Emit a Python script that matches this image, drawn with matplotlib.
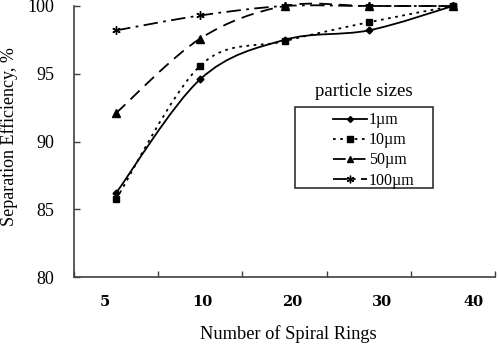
import matplotlib
matplotlib.use("Agg")
import matplotlib.pyplot as plt
from matplotlib.path import Path
from matplotlib.patches import PathPatch, Rectangle
from matplotlib.lines import Line2D
import numpy as np

# ---- data ----
rings = ["5", "10", "20", "30", "40"]
eff_1um = [86.2, 94.6, 97.5, 98.2, 100.0]
eff_10um = [85.75, 95.6, 97.4, 98.8, 100.0]
eff_50um = [92.1, 97.6, 100.0, 100.0, 100.0]
eff_100um = [98.2, 99.3, 100.0, 100.0, 100.0]
series_labels = ["1\u00b5m", "10\u00b5m", "50\u00b5m", "100\u00b5m"]
legend_title = "particle sizes"
ylabel = "Separation Efficiency, %"
xlabel = "Number of Spiral Rings"

# layout: slight offsets of the category labels (as in the original)
label_offsets = [-0.13, 0.02, 0.09, 0.16, 0.25]

serif = ["Liberation Serif", "DejaVu Serif"]
plt.rcParams["font.family"] = serif

fig = plt.figure(figsize=(4.98, 3.47), dpi=100)
ax = fig.add_axes([74/498, (347-277)/347, 421/498, 271/347])

xs = np.arange(len(rings))


def smooth_path(x, y):
    # Catmull-Rom style Bezier smoothing (like a spreadsheet "smoothed line")
    x = np.asarray(x, float)
    y = np.asarray(y, float)
    n = len(x)
    verts = [(x[0], y[0])]
    codes = [Path.MOVETO]
    for i in range(n - 1):
        x0, y0 = (x[i-1], y[i-1]) if i > 0 else (x[i], y[i])
        x3, y3 = (x[i+2], y[i+2]) if i + 2 < n else (x[i+1], y[i+1])
        c1 = (x[i] + (x[i+1] - x0) / 6.0, y[i] + (y[i+1] - y0) / 6.0)
        c2 = (x[i+1] - (x3 - x[i]) / 6.0, y[i+1] - (y3 - y[i]) / 6.0)
        verts += [c1, c2, (x[i+1], y[i+1])]
        codes += [Path.CURVE4] * 3
    return Path(verts, codes)


styles = [
    dict(marker="D", ms=3.5, dashes=None),
    dict(marker="s", ms=4.5, dashes=(1.5, 2.5)),
    dict(marker="^", ms=5.5, dashes=(7, 4)),
    dict(marker=(6, 2, 0), ms=6, dashes=(8, 3, 1.5, 3)),
]
all_series = [eff_1um, eff_10um, eff_50um, eff_100um]
handles = []
for ys, st, lab in zip(all_series, styles, series_labels):
    p = PathPatch(smooth_path(xs, ys), fill=False, edgecolor="black",
                  lw=1.3, clip_on=False)
    if st["dashes"] is not None:
        p.set_linestyle((0, st["dashes"]))
    ax.add_patch(p)
    ax.plot(xs, ys, ls="none", marker=st["marker"], ms=st["ms"],
            color="black", mew=1.0, clip_on=False, zorder=3)
    h = Line2D([], [], color="black", lw=1.3, marker=st["marker"],
               ms=st["ms"] - 0.5, mew=1.0)
    if st["dashes"] is not None:
        h.set_dashes(st["dashes"])
    handles.append(h)

ax.set_xlim(-0.5, len(rings) - 0.5)
ax.set_ylim(80, 100)

spine_col = "#404040"
for s in ["top", "right"]:
    ax.spines[s].set_visible(False)
for s in ["left", "bottom"]:
    ax.spines[s].set_color(spine_col)
    ax.spines[s].set_linewidth(1.2)

# category boundary ticks (no labels)
ax.set_xticks(np.arange(len(rings) + 1) - 0.5)
ax.set_xticklabels([])
ax.tick_params(axis="x", which="major", direction="in", length=4,
               width=1.0, color=spine_col)
ax.set_xticks(xs + np.array(label_offsets), minor=True)
ax.set_xticklabels(rings, minor=True, fontsize=10.5, fontweight="bold",
                   family=["DejaVu Serif"])
ax.tick_params(axis="x", which="minor", length=0, pad=13)

ax.set_yticks(np.arange(80, 101, 5))
ax.tick_params(axis="y", direction="in", length=4, width=1.0,
               color=spine_col, labelsize=13, pad=14)

ax.set_ylabel(ylabel, fontsize=13)
ax.yaxis.label.set_va("center")
ax.yaxis.set_label_coords(-0.155, 0.517)
ax.set_xlabel(xlabel, fontsize=13.2)
ax.xaxis.label.set_va("center")
ax.xaxis.set_label_coords(0.51, -0.21)

# legend frame and title
fig.patches.append(Rectangle((295/498, (347-188)/347), 138/498, 81/347,
                             transform=fig.transFigure, fill=False,
                             edgecolor="#303030", lw=1.2))
fig.text(364/498, 1 - 92/347, legend_title, ha="center", va="center",
         fontsize=13.5)
leg = fig.legend(handles, series_labels, loc="upper left",
                 bbox_to_anchor=(330/498, 1 - 109/347), frameon=False,
                 fontsize=11.5, handlelength=2.1, handletextpad=0.15,
                 labelspacing=0.26, borderpad=0.2, borderaxespad=0)

fig.savefig("out.png", dpi=100)
